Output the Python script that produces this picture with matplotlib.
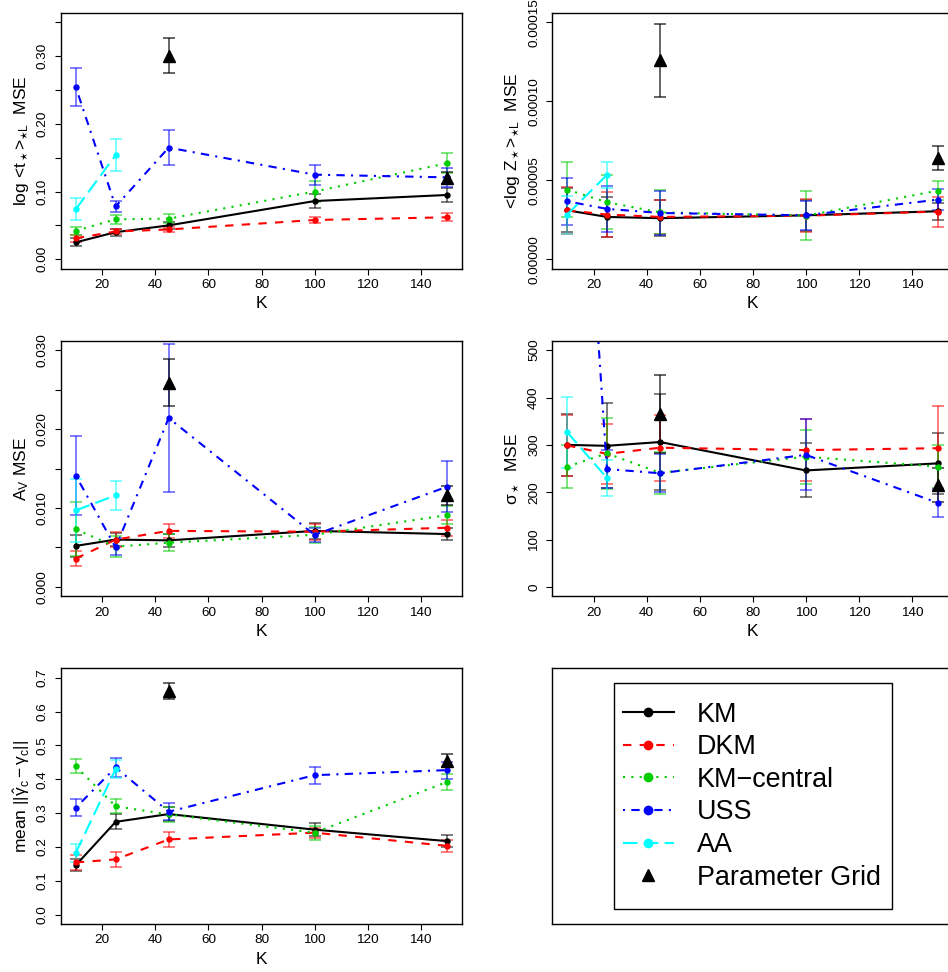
import matplotlib.pyplot as plt
from matplotlib.lines import Line2D
from matplotlib.patches import Rectangle

plt.rcParams['font.family'] = 'Liberation Sans'
plt.rcParams['mathtext.fontset'] = 'custom'
plt.rcParams['mathtext.rm'] = 'Liberation Sans'
plt.rcParams['mathtext.it'] = 'Liberation Sans'
plt.rcParams['mathtext.bf'] = 'Liberation Sans:bold'

#+++++++++++++++++++++++++++++++++++++++++++++++++++++++++++++++++++++++++++++#
# data. rows = panels in the order
# tau, logZ, Av, sigma, gamma

K = [10, 25, 45, 100, 150]
K_AA = [10, 25]
K_GRID = [45, 150]

KM_MEAN = [
  [0.025, 0.040, 0.050, 0.086, 0.095],
  [3.1e-5, 2.68e-5, 2.6e-5, 2.78e-5, 3.04e-5],
  [0.0052, 0.0060, 0.0059, 0.0071, 0.0067],
  [300, 298, 306, 246, 261],
  [0.146, 0.274, 0.297, 0.251, 0.217] ]
KM_ERR = [
  [0.006, 0.005, 0.005, 0.011, 0.011],
  [1.4e-5, 1.27e-5, 1.15e-5, 1.0e-5, 5.5e-6],
  [0.0014, 0.0008, 0.0008, 0.0010, 0.0008],
  [66, 90, 102, 57, 65],
  [0.018, 0.022, 0.020, 0.020, 0.018] ]

DKM_MEAN = [
  [0.031, 0.041, 0.044, 0.058, 0.062],
  [3.1e-5, 2.83e-5, 2.68e-5, 2.76e-5, 3.02e-5],
  [0.0036, 0.0060, 0.0071, 0.0070, 0.0075],
  [299, 281, 294, 289, 293],
  [0.154, 0.163, 0.222, 0.242, 0.203] ]
DKM_ERR = [
  [0.005, 0.004, 0.004, 0.005, 0.006],
  [1.5e-5, 1.4e-5, 1.1e-5, 1.05e-5, 9.5e-6],
  [0.0010, 0.0010, 0.0009, 0.0010, 0.0010],
  [64, 64, 70, 66, 90],
  [0.021, 0.021, 0.021, 0.015, 0.018] ]

CENTRAL_MEAN = [
  [0.042, 0.059, 0.060, 0.100, 0.142],
  [4.41e-5, 3.61e-5, 2.97e-5, 2.76e-5, 4.35e-5],
  [0.0073, 0.0051, 0.0056, 0.0066, 0.0091],
  [254, 282, 241, 275, 254],
  [0.438, 0.320, 0.296, 0.242, 0.392] ]
CENTRAL_ERR = [
  [0.006, 0.007, 0.007, 0.015, 0.015],
  [1.75e-5, 1.7e-5, 1.4e-5, 1.55e-5, 6e-6],
  [0.0034, 0.0013, 0.0011, 0.0010, 0.0011],
  [45, 75, 45, 57, 46],
  [0.021, 0.021, 0.021, 0.021, 0.023] ]

USS_MEAN = [
  [0.254, 0.078, 0.165, 0.125, 0.121],
  [3.67e-5, 3.19e-5, 2.93e-5, 2.78e-5, 3.78e-5],
  [0.0141, 0.0050, 0.0214, 0.0066, 0.0127],
  [1500, 249, 240, 279, 177],
  [0.316, 0.435, 0.304, 0.412, 0.427] ]
USS_ERR = [
  [0.028, 0.008, 0.026, 0.015, 0.014],
  [1.5e-5, 1.45e-5, 1.37e-5, 9.3e-6, 6.6e-6],
  [0.0050, 0.0009, 0.0094, 0.0009, 0.0032],
  [150, 41, 40, 75, 30],
  [0.025, 0.028, 0.025, 0.025, 0.025] ]

AA_MEAN = [
  [0.074, 0.154],
  [2.83e-5, 5.34e-5],
  [0.0097, 0.0116],
  [327, 230],
  [0.183, 0.430] ]
AA_ERR = [
  [0.016, 0.023],
  [1.2e-5, 8.2e-6],
  [0.0040, 0.0018],
  [75, 38],
  [0.027, 0.027] ]

GRID_MEAN = [
  [0.301, 0.120],
  [1.26e-4, 6.41e-5],
  [0.0259, 0.0116],
  [365, 216],
  [0.661, 0.455] ]
GRID_ERR = [
  [0.026, 0.009],
  [2.3e-5, 7.6e-6],
  [0.0030, 0.0012],
  [82, 36],
  [0.025, 0.020] ]

YLABELS = [
  r'log <t$_\star$>$_{\star \mathrm{L}}$  MSE',
  r'<log Z$_\star$>$_{\star \mathrm{L}}$  MSE',
  r'A$_\mathrm{V}$ MSE',
  r'$\sigma_\star$  MSE',
  r'mean ||$\hat{\gamma}_\mathrm{c} - \gamma_\mathrm{c}$||' ]

YTICKS = [
  ([0, 0.1, 0.2, 0.3], ['0.00', '0.10', '0.20', '0.30'], [0.05, 0.15, 0.25, 0.35]),
  ([0, 5e-5, 1e-4, 1.5e-4], ['0.00000', '0.00005', '0.00010', '0.00015'], []),
  ([0, 0.01, 0.02, 0.03], ['0.000', '0.010', '0.020', '0.030'], [0.005, 0.015, 0.025]),
  ([0, 100, 200, 300, 400, 500], ['0', '100', '200', '300', '400', '500'], []),
  ([0, .1, .2, .3, .4, .5, .6, .7], ['0.0', '0.1', '0.2', '0.3', '0.4', '0.5', '0.6', '0.7'], []) ]

YLIMS = [(-0.014, 0.364), (-6e-6, 1.56e-4), (-0.0012, 0.0312), (-20, 520), (-0.028, 0.728)]

#+++++++++++++++++++++++++++++++++++++++++++++++++++++++++++++++++++++++++++++#

METHODS = [
  ('KM', K, KM_MEAN, KM_ERR, 'black', '-'),
  ('DKM', K, DKM_MEAN, DKM_ERR, '#FF0000', (0, (4, 4))),
  ('KM\u2212central', K, CENTRAL_MEAN, CENTRAL_ERR, '#00CD00', (0, (1, 3))),
  ('USS', K, USS_MEAN, USS_ERR, '#0000FF', (0, (1, 3, 4, 3))),
  ('AA', K_AA, AA_MEAN, AA_ERR, '#00FFFF', (0, (7, 3))),
]

W, H = 948., 972.
LEFT_X = [61, 552.3]
TOPS = [13, 340.7, 668.3]
AX_W, AX_H = 401., 255.7

fig = plt.figure(figsize=(9.48, 9.72), dpi=100)

def make_axes(col, row):
  return fig.add_axes([LEFT_X[col] / W, 1 - (TOPS[row] + AX_H) / H, AX_W / W, AX_H / H])

for i in range(5):
  ax = make_axes(i % 2, i // 2)

  for name, kk, mean, err, color, ls in METHODS:
    ax.errorbar(kk, mean[i], yerr=err[i], fmt='none', ecolor=color, alpha=0.55,
                elinewidth=1.3, capsize=4.3, capthick=1.3, zorder=2)
    ax.plot(kk, mean[i], color=color, linestyle=ls, lw=1.5, marker='o', ms=3.6, zorder=3)

  ax.errorbar(K_GRID, GRID_MEAN[i], yerr=GRID_ERR[i], fmt='none', ecolor='black', alpha=0.65,
              elinewidth=1.3, capsize=4.3, capthick=1.3, zorder=2)
  ax.plot(K_GRID, GRID_MEAN[i], linestyle='none', marker='^', color='black', ms=8, zorder=4)

  ax.set_xlim(4.4, 155.6)
  ax.set_ylim(*YLIMS[i])
  ax.set_xticks([20, 40, 60, 80, 100, 120, 140])
  major, labels, minor = YTICKS[i]
  ax.set_yticks(major, labels, rotation=90, va='center')
  ax.set_yticks(minor, minor=True)
  ax.tick_params(which='both', direction='out', length=4.3, width=0.8, labelsize=9.7)
  ax.tick_params(axis='y', pad=4.5)
  ax.tick_params(axis='x', pad=3)
  for s in ax.spines.values():
    s.set_linewidth(1.0)

  ax.set_xlabel('K', fontsize=12.5)
  ax.xaxis.set_label_coords(0.5, -0.137)
  ax.xaxis.label.set_va('center')
  ax.set_ylabel(YLABELS[i], fontsize=12.5)
  ax.yaxis.set_label_coords(-0.098, 0.5)
  ax.yaxis.label.set_va('center')

# legend panel
ax = make_axes(1, 2)
ax.set_xticks([])
ax.set_yticks([])
for s in ax.spines.values():
  s.set_linewidth(1.0)

handles = [Line2D([], [], color=c, linestyle=ls, lw=1.5, marker='o', ms=6)
           for name, kk, mean, err, c, ls in METHODS]
handles.append(Line2D([], [], linestyle='none', marker='^', color='black', ms=9))
names = [m[0] for m in METHODS] + ['Parameter Grid']

ax.add_patch(Rectangle((0.154, 0.0575), 0.693, 0.886, transform=ax.transAxes,
                       fill=False, edgecolor='black', lw=1.0))
ax.legend(handles, names, loc='center', bbox_to_anchor=(0.497, 0.5), fontsize=19.4,
          frameon=False, handlelength=1.9, handletextpad=0.85, labelspacing=0.245,
          borderpad=0.4)

fig.savefig('out.png', dpi=100)
